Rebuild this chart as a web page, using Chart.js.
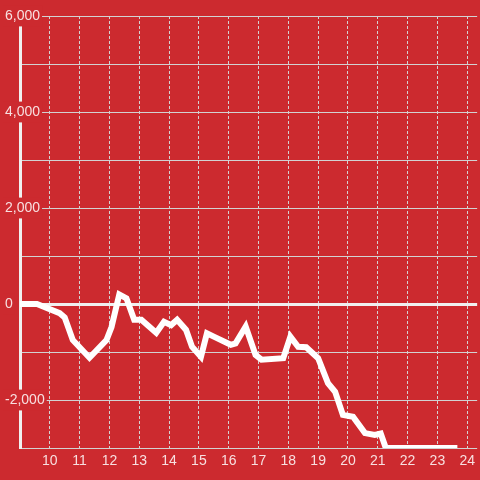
<!DOCTYPE html>
<html>
<head>
<meta charset="utf-8">
<script src="https://cdn.jsdelivr.net/npm/chart.js@4/dist/chart.umd.min.js"></script>
<style>
  html, body { margin: 0; padding: 0; background: #cc2a2f; }
  #chart { display: block; }
</style>
</head>
<body>
<canvas id="chart" width="480" height="480"></canvas>
<script>
// Values
const hours = [9, 9.57, 10.33, 10.5, 10.77, 11.33, 11.9, 12.07, 12.33, 12.57, 12.83, 13.07,
    13.57, 13.83, 14.07, 14.27, 14.57, 14.77, 15.07, 15.27, 15.5, 16.07, 16.23, 16.57,
    16.9, 17.1, 17.83, 18.07, 18.33, 18.6, 19.0, 19.33, 19.57, 19.83, 20.17, 20.57,
    20.9, 21.1, 21.27, 23.67];
const balance = [0, 0, -190, -280, -750, -1120, -750, -480, 200, 120, -330, -330,
    -600, -370, -440, -330, -540, -890, -1100, -610, -680, -850, -820, -470,
    -1060, -1160, -1130, -680, -890, -900, -1130, -1650, -1830, -2310, -2350, -2690,
    -2730, -2700, -3000, -3000];
const xTickValues = [10, 11, 12, 13, 14, 15, 16, 17, 18, 19, 20, 21, 22, 23, 24];
const yLabelStep = 2000;

const RED = '#cc2a2f';
const LABEL = 'rgba(255,255,255,0.85)';
const GRID = '#d2d2d2';

const points = hours.map((h, i) => ({ x: h, y: balance[i] }));

new Chart(document.getElementById('chart'), {
    type: 'line',
    data: {
        datasets: [{
            data: points,
            borderColor: '#ffffff',
            borderWidth: 6,
            pointRadius: 0,
            tension: 0,
            fill: false
        }]
    },
    options: {
        responsive: false,
        animation: false,
        layout: { padding: { top: 16, left: 5, right: 0, bottom: 0 } },
        plugins: { legend: { display: false }, tooltip: { enabled: false } },
        scales: {
            x: {
                type: 'linear',
                min: 9,
                max: 24.333,
                afterBuildTicks: s => { s.ticks = xTickValues.map(v => ({ value: v })); },
                afterFit: s => { s.height = 32; },
                grid: { color: GRID, lineWidth: 1, drawTicks: false },
                border: { display: false, dash: [3, 2] },
                ticks: {
                    color: LABEL,
                    padding: 5,
                    maxRotation: 0,
                    font: { family: 'Liberation Sans, Arial, sans-serif', size: 14 }
                }
            },
            y: {
                min: -3000,
                max: 6000,
                afterFit: s => { s.width = 15; },
                grid: {
                    drawTicks: false,
                    color: ctx => ctx.tick && ctx.tick.value === 0 ? '#f0f0f0' : GRID,
                    lineWidth: ctx => ctx.tick && ctx.tick.value === 0 ? 3 : 1
                },
                border: { display: true, color: '#f0f0f0', width: 3 },
                ticks: {
                    stepSize: 1000,
                    mirror: true,
                    padding: -15,
                    color: LABEL,
                    font: { family: 'Liberation Sans, Arial, sans-serif', size: 14 },
                    showLabelBackdrop: ctx => !!ctx.tick && ctx.tick.value % yLabelStep === 0,
                    backdropColor: RED,
                    backdropPadding: 2,
                    callback: v => v % yLabelStep === 0 ? v.toLocaleString('en-US') : ''
                }
            }
        }
    }
});
</script>
</body>
</html>
